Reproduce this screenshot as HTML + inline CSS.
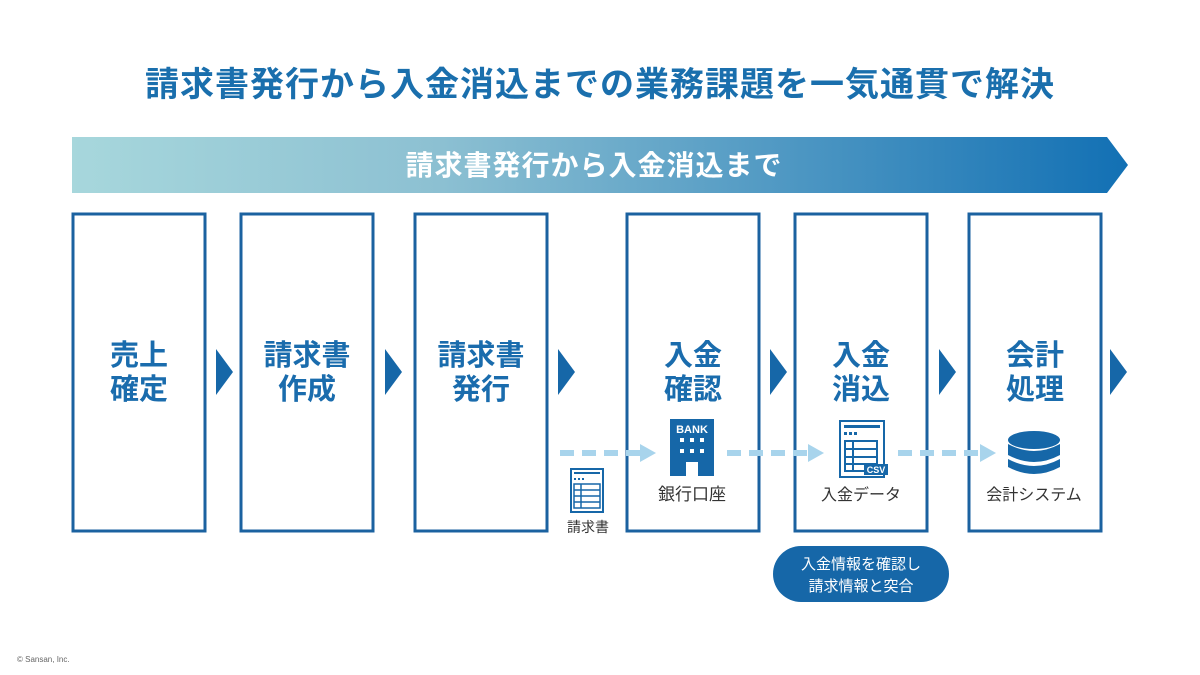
<!DOCTYPE html>
<html><head><meta charset="utf-8"><style>
html,body{margin:0;padding:0;background:#fff;}
svg{display:block;font-family:"Liberation Sans","Noto Sans CJK JP",sans-serif;}
</style></head><body>
<svg width="1200" height="675" viewBox="0 0 1200 675" xmlns="http://www.w3.org/2000/svg">
<defs>
<linearGradient id="g" x1="0" x2="1" y1="0" y2="0">
<stop offset="0" stop-color="#a7d7dc"/>
<stop offset="0.35" stop-color="#8cc0d2"/>
<stop offset="1" stop-color="#1270b4"/>
</linearGradient>
</defs>
<text x="600" y="96" text-anchor="middle" font-size="34" letter-spacing="1" font-weight="bold" fill="#1a6fad" font-family="Noto Sans CJK JP, sans-serif">請求書発行から入金消込までの業務課題を一気通貫で解決</text>
<polygon points="72,137 1107,137 1128,165 1107,193 72,193" fill="url(#g)"/>
<text x="594" y="175" text-anchor="middle" font-size="28" letter-spacing="1" font-weight="bold" fill="#fff" font-family="Noto Sans CJK JP, sans-serif">請求書発行から入金消込まで</text>
<g fill="none" stroke="#1b62a0" stroke-width="3">
<rect x="73" y="214" width="132" height="317"/>
<rect x="241" y="214" width="132" height="317"/>
<rect x="415" y="214" width="132" height="317"/>
<rect x="627" y="214" width="132" height="317"/>
<rect x="795" y="214" width="132" height="317"/>
<rect x="969" y="214" width="132" height="317"/>
</g>
<g fill="#1667a8">
<polygon points="216,349 233,372 216,395"/>
<polygon points="385,349 402,372 385,395"/>
<polygon points="558,349 575,372 558,395"/>
<polygon points="770,349 787,372 770,395"/>
<polygon points="939,349 956,372 939,395"/>
<polygon points="1110,349 1127,372 1110,395"/>
</g>
<g font-size="29" font-weight="bold" fill="#1a6cad" text-anchor="middle" font-family="Noto Sans CJK JP, sans-serif">
<text x="139" y="365">売上</text><text x="139" y="399">確定</text>
<text x="307" y="365">請求書</text><text x="307" y="399">作成</text>
<text x="481" y="365">請求書</text><text x="481" y="399">発行</text>
<text x="693" y="365">入金</text><text x="693" y="399">確認</text>
<text x="861" y="365">入金</text><text x="861" y="399">消込</text>
<text x="1035" y="365">会計</text><text x="1035" y="399">処理</text>
</g>
<g stroke="#a8d4ec" stroke-width="6" stroke-dasharray="14,8">
<line x1="560" y1="453" x2="640" y2="453"/>
<line x1="727" y1="453" x2="808" y2="453"/>
<line x1="898" y1="453" x2="980" y2="453"/>
</g>
<g fill="#a8d4ec">
<polygon points="640,444 656,453 640,462"/>
<polygon points="808,444 824,453 808,462"/>
<polygon points="980,444 996,453 980,462"/>
</g>
<g>
<rect x="571" y="469" width="32" height="43" fill="#fff" stroke="#1667a8" stroke-width="2"/>
<rect x="574" y="472" width="26" height="2" fill="#1667a8"/>
<rect x="574" y="478" width="2" height="2" fill="#1667a8"/><rect x="578" y="478" width="2" height="2" fill="#1667a8"/><rect x="582" y="478" width="2" height="2" fill="#1667a8"/>
<rect x="574" y="484" width="26" height="24" fill="none" stroke="#1667a8" stroke-width="1.5"/>
<line x1="574" y1="490" x2="600" y2="490" stroke="#1667a8" stroke-width="1.5"/>
<line x1="574" y1="496" x2="600" y2="496" stroke="#1667a8" stroke-width="1.5"/>
<line x1="574" y1="502" x2="600" y2="502" stroke="#1667a8" stroke-width="1.5"/>
<line x1="581" y1="484" x2="581" y2="508" stroke="#1667a8" stroke-width="1.5"/>
</g>
<text x="588" y="532" text-anchor="middle" font-size="14" fill="#333" font-family="Noto Sans CJK JP, sans-serif">請求書</text>
<rect x="670" y="419" width="44" height="57" fill="#1667a8"/>
<text x="692" y="433" text-anchor="middle" font-size="11" font-weight="bold" fill="#fff">BANK</text>
<g fill="#fff">
<rect x="680" y="438" width="4" height="4"/><rect x="690" y="438" width="4" height="4"/><rect x="700" y="438" width="4" height="4"/>
<rect x="680" y="449" width="4" height="4"/><rect x="690" y="449" width="4" height="4"/><rect x="700" y="449" width="4" height="4"/>
<rect x="686" y="462" width="12" height="14"/>
</g>
<text x="692" y="500" text-anchor="middle" font-size="17" fill="#333" font-family="Noto Sans CJK JP, sans-serif">銀行口座</text>
<g>
<rect x="840" y="421" width="44" height="56" fill="#fff" stroke="#1667a8" stroke-width="2"/>
<rect x="844" y="425" width="36" height="3" fill="#1667a8"/>
<rect x="844" y="432" width="3" height="3" fill="#1667a8"/><rect x="849" y="432" width="3" height="3" fill="#1667a8"/><rect x="854" y="432" width="3" height="3" fill="#1667a8"/>
<rect x="845" y="441" width="32" height="30" fill="none" stroke="#1667a8" stroke-width="2"/>
<line x1="845" y1="449" x2="877" y2="449" stroke="#1667a8" stroke-width="2"/>
<line x1="845" y1="457" x2="877" y2="457" stroke="#1667a8" stroke-width="2"/>
<line x1="845" y1="464" x2="877" y2="464" stroke="#1667a8" stroke-width="2"/>
<line x1="853" y1="441" x2="853" y2="471" stroke="#1667a8" stroke-width="2"/>
<rect x="864" y="464" width="24" height="11" fill="#1667a8"/>
<text x="876" y="473" text-anchor="middle" font-size="9" font-weight="bold" fill="#fff">CSV</text>
</g>
<text x="861" y="500" text-anchor="middle" font-size="16" fill="#333" font-family="Noto Sans CJK JP, sans-serif">入金データ</text>
<g fill="#1667a8">
<ellipse cx="1034" cy="440" rx="26" ry="9"/>
<path d="M1008,444 Q1034,458 1060,444 L1060,455 Q1034,469 1008,455 Z"/>
<path d="M1008,459 Q1034,473 1060,459 L1060,467 Q1034,481 1008,467 Z"/>
</g>
<text x="1034" y="500" text-anchor="middle" font-size="16" fill="#333" font-family="Noto Sans CJK JP, sans-serif">会計システム</text>
<rect x="773" y="546" width="176" height="56" rx="28" fill="#1667a8"/>
<g font-size="15" fill="#fff" text-anchor="middle" font-family="Noto Sans CJK JP, sans-serif">
<text x="861" y="569">入金情報を確認し</text>
<text x="861" y="591">請求情報と突合</text>
</g>
<text x="17" y="662" font-size="8" fill="#666">© Sansan, Inc.</text>
</svg>
</body></html>
